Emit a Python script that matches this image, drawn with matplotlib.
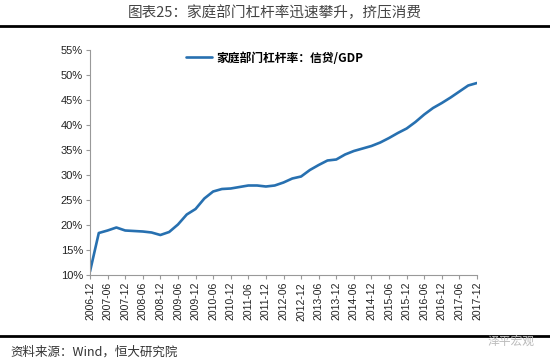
import matplotlib
matplotlib.use("Agg")
import matplotlib.pyplot as plt
from matplotlib.lines import Line2D
from matplotlib.ticker import FuncFormatter, MultipleLocator

plt.rcParams["font.family"] = ["Noto Sans CJK SC", "DejaVu Sans"]

# quarterly, 2006-12 .. 2017-12, household credit / GDP (%)
leverage = [10.7, 18.4, 18.9, 19.5, 18.9, 18.8, 18.7, 18.5, 18.0, 18.6,
            20.1, 22.1, 23.2, 25.3, 26.7, 27.2, 27.3, 27.6, 27.9, 27.9,
            27.7, 27.9, 28.5, 29.3, 29.7, 31.0, 32.0, 32.9, 33.1, 34.1,
            34.8, 35.3, 35.8, 36.5, 37.4, 38.4, 39.3, 40.6, 42.1, 43.4,
            44.4, 45.5, 46.7, 47.9, 48.4]
tick_labels = ["2006-12", "2007-06", "2007-12", "2008-06", "2008-12", "2009-06",
               "2009-12", "2010-06", "2010-12", "2011-06", "2011-12", "2012-06",
               "2012-12", "2013-06", "2013-12", "2014-06", "2014-12", "2015-06",
               "2015-12", "2016-06", "2016-12", "2017-06", "2017-12"]
series_name = "家庭部门杠杆率：信贷/GDP"
title = "图表25：家庭部门杠杆率迅速攀升，挤压消费"
source = "资料来源：Wind，恒大研究院"

fig = plt.figure(figsize=(5.5, 3.6), dpi=100)
ax = fig.add_axes([90 / 550, 85 / 360, 387 / 550, 225 / 360])

x = list(range(len(leverage)))
ax.plot(x, leverage, color="#2770B0", lw=1.9, solid_capstyle="round",
        solid_joinstyle="round", label=series_name)

ax.set_xlim(0, len(leverage) - 1)
ax.set_ylim(10, 55)
ax.yaxis.set_major_locator(MultipleLocator(5))
ax.yaxis.set_major_formatter(FuncFormatter(lambda v, _: f"{v:.0f}%"))
ax.set_xticks(range(0, len(leverage), 2))
ax.set_xticklabels(tick_labels, rotation=90, fontsize=7.5,
                   family=["Liberation Sans", "DejaVu Sans"])
for t in ax.get_yticklabels():
    t.set_fontsize(8)
    t.set_family(["Liberation Sans Narrow", "Liberation Sans", "DejaVu Sans"])

for s in ["top", "right"]:
    ax.spines[s].set_visible(False)
for s in ["left", "bottom"]:
    ax.spines[s].set_color("#999999")
    ax.spines[s].set_linewidth(0.8)
ax.tick_params(axis="both", colors="#999999", labelcolor="#222222",
               length=3, width=0.8, pad=2)

leg = ax.legend(loc="upper left", bbox_to_anchor=(0.22, 1.04), frameon=False,
                handlelength=2.2, handletextpad=0.4,
                prop={"size": 8.5, "weight": "bold"})

fig.text(0.5, 1 - 13 / 360, title, ha="center", va="center",
         fontsize=10.5, color="#444444")
fig.add_artist(Line2D([0, 1], [1 - 26 / 360] * 2, color="black", lw=2))
fig.add_artist(Line2D([0, 1], [1 - 335.5 / 360] * 2, color="black", lw=2))
fig.text(10 / 550, 1 - 352 / 360, source, ha="left", va="center",
         fontsize=9, color="#333333")
fig.text(535 / 550, 1 - 341 / 360, "泽平宏观", ha="right", va="center",
         fontsize=8.5, color="#bbbbbb")

fig.savefig("out.png", dpi=100)
